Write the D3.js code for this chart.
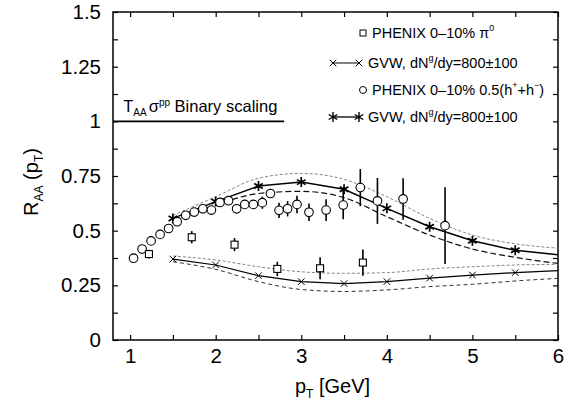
<!DOCTYPE html>
<html>
<head>
<meta charset="utf-8">
<script src="https://cdn.jsdelivr.net/npm/d3@7"></script>
<style>
  body { margin: 0; background: #fff; }
  text { font-family: "Liberation Sans", Arial, Helvetica, sans-serif; fill: #000; }
</style>
</head>
<body>
<svg id="chart" width="569" height="409"></svg>
<script>
// PHENIX 0-10% 0.5(h+ + h-)
const hX   = [1.04, 1.14, 1.245, 1.35, 1.45, 1.55, 1.65, 1.75, 1.85, 1.95, 2.05, 2.15, 2.245, 2.34, 2.44, 2.545, 2.64, 2.74, 2.84, 2.95, 3.09, 3.29, 3.49, 3.69, 3.89, 4.19, 4.68];
const hY   = [0.374, 0.416, 0.453, 0.483, 0.51, 0.541, 0.57, 0.585, 0.60, 0.594, 0.629, 0.637, 0.60, 0.62, 0.62, 0.628, 0.67, 0.593, 0.60, 0.62, 0.584, 0.594, 0.617, 0.697, 0.636, 0.645, 0.523];
const hErr = [0.006, 0.006, 0.006, 0.006, 0.006, 0.006, 0.006, 0.006, 0.008, 0.008, 0.01, 0.01, 0.012, 0.015, 0.02, 0.028, 0.02, 0.035, 0.035, 0.04, 0.04, 0.05, 0.065, 0.085, 0.105, 0.095, 0.175];

// PHENIX 0-10% pi0
const piX   = [1.22, 1.72, 2.22, 2.72, 3.22, 3.72];
const piY   = [0.393, 0.47, 0.436, 0.325, 0.328, 0.354];
const piErr = [0.02, 0.028, 0.03, 0.033, 0.05, 0.06];

// GVW curves, dN^g/dy = 800 +- 100
const gvwX   = [1.5, 2, 2.5, 3, 3.5, 4, 4.5, 5, 5.5, 6];
const piMid  = [0.37, 0.343, 0.294, 0.267, 0.258, 0.267, 0.283, 0.297, 0.308, 0.317];
const piHi   = [0.384, 0.366, 0.335, 0.312, 0.305, 0.308, 0.325, 0.335, 0.343, 0.346];
const piLo   = [0.358, 0.323, 0.267, 0.231, 0.222, 0.229, 0.244, 0.255, 0.27, 0.282];
const hMid   = [0.556, 0.633, 0.704, 0.722, 0.689, 0.602, 0.518, 0.454, 0.41, 0.39];
const hHi    = [0.57, 0.655, 0.74, 0.762, 0.735, 0.655, 0.556, 0.48, 0.44, 0.42];
const hLo    = [0.544, 0.617, 0.67, 0.68, 0.651, 0.564, 0.48, 0.416, 0.378, 0.35];

// binary scaling reference line
const binaryX = [0.8, 2.8];
const binaryY = 1;

const xTicks = [1, 2, 3, 4, 5, 6];
const yTicks = [0, 0.25, 0.5, 0.75, 1, 1.25, 1.5];

const svg = d3.select("#chart");
const margin = { top: 12, right: 11, bottom: 69, left: 113 };
const width = 569 - margin.left - margin.right;
const height = 409 - margin.top - margin.bottom;

const g = svg.append("g").attr("transform", `translate(${margin.left},${margin.top})`);

const x = d3.scaleLinear().domain([0.8, 6]).range([0, width]);
const y = d3.scaleLinear().domain([0, 1.5]).range([height, 0]);

// axes with inward ticks
const xMinor = d3.range(1, 6.01, 0.5);
const yMinor = d3.range(0, 1.501, 0.125);

function styleAxis(sel) {
  sel.select(".domain").remove();
  sel.selectAll(".tick line").attr("stroke", "#000").attr("stroke-width", 1.2);
}

g.append("g")
  .attr("transform", `translate(0,${height})`)
  .call(d3.axisBottom(x).tickValues(xMinor).tickSize(-5).tickPadding(8)
    .tickFormat(d => xTicks.includes(d) ? d : ""))
  .call(styleAxis)
  .selectAll("text").style("font-size", "20.5px");

g.append("g")
  .call(d3.axisTop(x).tickValues(xMinor).tickSize(-5).tickFormat(""))
  .call(styleAxis);

g.append("g")
  .call(d3.axisLeft(y).tickValues(yMinor).tickSize(-5).tickPadding(12)
    .tickFormat(d => yTicks.includes(d) ? d : ""))
  .call(styleAxis)
  .selectAll("text").style("font-size", "20.5px");

g.append("g")
  .attr("transform", `translate(${width},0)`)
  .call(d3.axisRight(y).tickValues(yMinor).tickSize(-5).tickFormat(""))
  .call(styleAxis);

g.append("rect")
  .attr("width", width).attr("height", height)
  .attr("fill", "none").attr("stroke", "#000").attr("stroke-width", 1.5);

// binary scaling line + label
g.append("line")
  .attr("x1", x(binaryX[0])).attr("x2", x(binaryX[1]))
  .attr("y1", y(binaryY)).attr("y2", y(binaryY))
  .attr("stroke", "#000").attr("stroke-width", 1.8);

const bl = g.append("text").attr("x", x(0.92)).attr("y", y(binaryY) - 9).style("font-size", "16.5px");
bl.append("tspan").text("T");
bl.append("tspan").text("AA").attr("dy", 4).style("font-size", "10px");
bl.append("tspan").text("σ").attr("dy", -4).attr("dx", 2);
bl.append("tspan").text("pp").attr("dy", -6).style("font-size", "10px");
bl.append("tspan").text(" Binary scaling").attr("dy", 6);

// curves
const line = d3.line().x(d => x(d[0])).y(d => y(d[1]));
const smooth = d3.line().curve(d3.curveMonotoneX).x(d => x(d[0])).y(d => y(d[1]));
const zip = (xs, ys) => xs.map((v, i) => [v, ys[i]]);

const plot = g.append("g");

function dashed(ys, color, dash, w) {
  plot.append("path").datum(zip(gvwX, ys))
    .attr("d", smooth).attr("fill", "none")
    .attr("stroke", color).attr("stroke-width", w).attr("stroke-dasharray", dash);
}
dashed(hHi, "#777", "3,2", 0.9);
dashed(hLo, "#111", "6,3", 1.2);
dashed(piHi, "#777", "3,2", 0.9);
dashed(piLo, "#333", "4,3", 1);

plot.append("path").datum(zip(gvwX, hMid)).attr("d", line)
  .attr("fill", "none").attr("stroke", "#000").attr("stroke-width", 1.5);
plot.append("path").datum(zip(gvwX, piMid)).attr("d", line)
  .attr("fill", "none").attr("stroke", "#000").attr("stroke-width", 1.2);

const star = d3.symbol().type(d3.symbolAsterisk).size(70);
const cross = d3.symbol().type(d3.symbolTimes).size(30);

const markX = gvwX.slice(0, -1);
plot.selectAll(".star").data(zip(markX, hMid)).join("path")
  .attr("transform", d => `translate(${x(d[0])},${y(d[1])})`)
  .attr("d", star).attr("fill", "none").attr("stroke", "#000").attr("stroke-width", 1.7);
plot.selectAll(".cross").data(zip(markX, piMid)).join("path")
  .attr("transform", d => `translate(${x(d[0])},${y(d[1])})`)
  .attr("d", cross).attr("fill", "none").attr("stroke", "#000").attr("stroke-width", 1);

// error bars
function errorBars(xs, ys, es) {
  plot.append("g").selectAll("line").data(xs.map((v, i) => [v, ys[i], es[i]])).join("line")
    .attr("x1", d => x(d[0])).attr("x2", d => x(d[0]))
    .attr("y1", d => y(d[1] - d[2])).attr("y2", d => y(d[1] + d[2]))
    .attr("stroke", "#000").attr("stroke-width", 1.6);
}
errorBars(hX, hY, hErr);
errorBars(piX, piY, piErr);

// data markers
plot.append("g").selectAll("circle").data(zip(hX, hY)).join("circle")
  .attr("cx", d => x(d[0])).attr("cy", d => y(d[1])).attr("r", 4.3)
  .attr("fill", "#fff").attr("stroke", "#000").attr("stroke-width", 1.1);
plot.append("g").selectAll("rect").data(zip(piX, piY)).join("rect")
  .attr("x", d => x(d[0]) - 3.5).attr("y", d => y(d[1]) - 3.5)
  .attr("width", 7).attr("height", 7)
  .attr("fill", "#fff").attr("stroke", "#000").attr("stroke-width", 1.1);

// legend
const legend = svg.append("g").style("font-size", "14.5px");
const rows = [33, 63, 90, 117];

legend.append("rect").attr("x", 360).attr("y", rows[0] - 3).attr("width", 6).attr("height", 6)
  .attr("fill", "#fff").attr("stroke", "#000").attr("stroke-width", 1);
const t1 = legend.append("text").attr("x", 372).attr("y", rows[0] + 5);
t1.append("tspan").text("PHENIX 0–10% π");
t1.append("tspan").text("0").attr("dy", -7).style("font-size", "9px");

legend.append("line").attr("x1", 333).attr("x2", 359).attr("y1", rows[1]).attr("y2", rows[1])
  .attr("stroke", "#000").attr("stroke-width", 1);
legend.selectAll(".lc").data([333, 359]).join("path")
  .attr("transform", d => `translate(${d},${rows[1]})`)
  .attr("d", cross).attr("fill", "none").attr("stroke", "#000").attr("stroke-width", 1);
const t2 = legend.append("text").attr("x", 368).attr("y", rows[1] + 5);
t2.append("tspan").text("GVW, dN");
t2.append("tspan").text("g").attr("dy", -7).style("font-size", "9px");
t2.append("tspan").text("/dy=800±100").attr("dy", 7);

legend.append("circle").attr("cx", 363).attr("cy", rows[2]).attr("r", 3.5)
  .attr("fill", "#fff").attr("stroke", "#000").attr("stroke-width", 1);
const t3 = legend.append("text").attr("x", 372).attr("y", rows[2] + 5);
t3.append("tspan").text("PHENIX 0–10% 0.5(h");
t3.append("tspan").text("+").attr("dy", -7).style("font-size", "9px");
t3.append("tspan").text("+h").attr("dy", 7);
t3.append("tspan").text("−").attr("dy", -7).style("font-size", "9px");
t3.append("tspan").text(")").attr("dy", 7);

legend.append("line").attr("x1", 333).attr("x2", 359).attr("y1", rows[3]).attr("y2", rows[3])
  .attr("stroke", "#000").attr("stroke-width", 1.3);
legend.selectAll(".ls").data([333, 359]).join("path")
  .attr("transform", d => `translate(${d},${rows[3]})`)
  .attr("d", star).attr("fill", "none").attr("stroke", "#000").attr("stroke-width", 1.4);
const t4 = legend.append("text").attr("x", 368).attr("y", rows[3] + 5);
t4.append("tspan").text("GVW, dN");
t4.append("tspan").text("g").attr("dy", -7).style("font-size", "9px");
t4.append("tspan").text("/dy=800±100").attr("dy", 7);

// axis titles
const xt = svg.append("text").attr("x", margin.left + width / 2 - 3).attr("y", 393)
  .attr("text-anchor", "middle").style("font-size", "20px");
xt.append("tspan").text("p");
xt.append("tspan").text("T").attr("dy", 5).style("font-size", "12px");
xt.append("tspan").text(" [GeV]").attr("dy", -5);

const yt = svg.append("text")
  .attr("transform", `translate(38,${margin.top + height / 2 + 6}) rotate(-90)`)
  .attr("text-anchor", "middle").style("font-size", "20px");
yt.append("tspan").text("R");
yt.append("tspan").text("AA").attr("dy", 5).style("font-size", "12px");
yt.append("tspan").text(" (p").attr("dy", -5);
yt.append("tspan").text("T").attr("dy", 5).style("font-size", "12px");
yt.append("tspan").text(")").attr("dy", -5);
</script>
</body>
</html>
